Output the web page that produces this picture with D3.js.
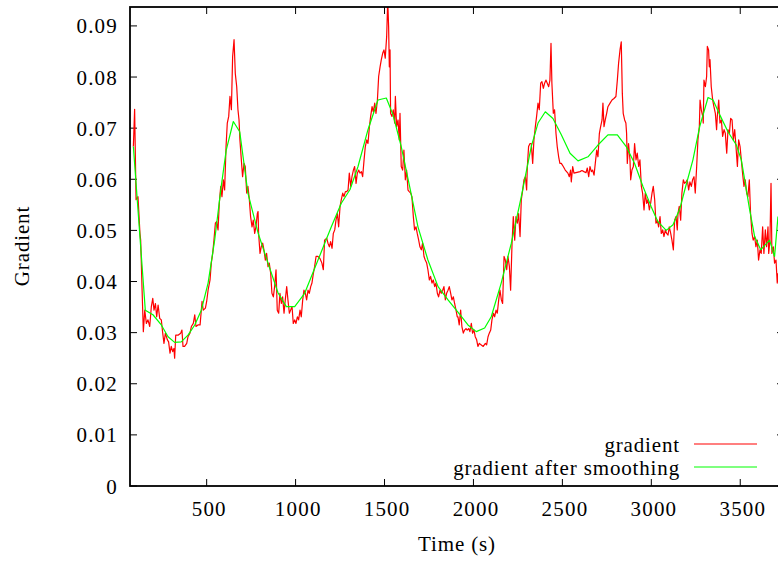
<!DOCTYPE html>
<html>
<head>
<meta charset="utf-8">
<script src="https://cdn.jsdelivr.net/npm/d3@7/dist/d3.min.js"></script>
<style>
  body { margin: 0; background: #fff; }
  svg { display: block; font-family: "Liberation Serif", "Times New Roman", serif; }
  .tick-label { font-size: 21px; fill: #000; letter-spacing: 1.2px; }
  .word-label { font-size: 21px; fill: #000; letter-spacing: 0.85px; }
</style>
</head>
<body>
<svg id="chart" width="778" height="562"></svg>
<script>
// gradient.js

// raw gradient, [time (s), gradient]
var gradient = [
  [88,0.0664],[95,0.0737],[103,0.0560],[114,0.0566],[125,0.0494],[129,0.0481],[137,0.0383],[144,0.0302],[152,0.0344],[161,0.0318],
  [170,0.0325],[180,0.0312],[189,0.0351],[197,0.0367],[204,0.0344],[212,0.0357],[219,0.0331],[227,0.0354],[236,0.0328],[245,0.0325],
  [253,0.0299],[260,0.0279],[268,0.0299],[279,0.0286],[286,0.0282],[294,0.0260],[301,0.0273],[309,0.0263],[316,0.0269],[320,0.0250],
  [326,0.0295],[339,0.0295],[354,0.0299],[361,0.0305],[367,0.0273],[376,0.0273],[388,0.0279],[395,0.0292],[406,0.0299],[414,0.0312],
  [425,0.0318],[433,0.0335],[440,0.0312],[451,0.0315],[463,0.0315],[474,0.0361],[481,0.0344],[493,0.0348],[500,0.0361],[508,0.0383],
  [519,0.0403],[526,0.0436],[534,0.0455],[541,0.0481],[549,0.0514],[556,0.0517],[564,0.0501],[571,0.0553],[579,0.0586],[586,0.0566],
  [594,0.0599],[601,0.0579],[609,0.0664],[616,0.0710],[624,0.0723],[631,0.0762],[639,0.0736],[646,0.0840],[654,0.0873],[661,0.0807],
  [669,0.0781],[676,0.0736],[682,0.0716],[687,0.0677],[695,0.0638],[702,0.0605],[710,0.0631],[717,0.0625],[725,0.0573],[732,0.0586],
  [740,0.0560],[747,0.0527],[755,0.0507],[762,0.0520],[770,0.0494],[777,0.0507],[785,0.0533],[789,0.0537],[792,0.0494],[800,0.0455],
  [807,0.0468],[815,0.0475],[822,0.0462],[830,0.0442],[837,0.0455],[845,0.0429],[852,0.0436],[860,0.0416],[867,0.0377],[875,0.0370],
  [882,0.0390],[890,0.0423],[897,0.0344],[905,0.0338],[912,0.0377],[920,0.0357],[927,0.0370],[935,0.0338],[942,0.0364],[950,0.0390],
  [957,0.0364],[965,0.0338],[972,0.0344],[980,0.0351],[987,0.0318],[995,0.0325],[1002,0.0318],[1010,0.0331],[1017,0.0325],[1025,0.0344],
  [1032,0.0331],[1040,0.0364],[1047,0.0383],[1055,0.0377],[1062,0.0364],[1070,0.0383],[1077,0.0377],[1085,0.0390],[1092,0.0397],[1100,0.0416],
  [1107,0.0429],[1115,0.0449],[1126,0.0449],[1137,0.0445],[1148,0.0436],[1156,0.0423],[1163,0.0481],[1175,0.0485],[1182,0.0475],[1190,0.0468],
  [1197,0.0478],[1205,0.0465],[1212,0.0494],[1220,0.0501],[1227,0.0520],[1235,0.0533],[1242,0.0507],[1250,0.0547],[1257,0.0560],[1265,0.0573],
  [1272,0.0566],[1280,0.0576],[1287,0.0576],[1295,0.0579],[1302,0.0612],[1310,0.0586],[1317,0.0605],[1325,0.0618],[1332,0.0625],[1340,0.0592],
  [1347,0.0612],[1355,0.0618],[1362,0.0612],[1370,0.0615],[1377,0.0605],[1385,0.0638],[1392,0.0664],[1400,0.0677],[1407,0.0670],[1415,0.0703],
  [1422,0.0723],[1430,0.0742],[1437,0.0732],[1445,0.0749],[1452,0.0729],[1460,0.0755],[1467,0.0801],[1475,0.0820],[1482,0.0834],[1490,0.0847],
  [1497,0.0853],[1504,0.0837],[1512,0.0879],[1518,0.0950],[1523,0.0899],[1527,0.0820],[1531,0.0853],[1534,0.0729],[1542,0.0723],[1549,0.0736],
  [1557,0.0710],[1561,0.0762],[1568,0.0703],[1576,0.0716],[1583,0.0677],[1587,0.0729],[1594,0.0625],[1602,0.0618],[1609,0.0657],[1617,0.0599],
  [1624,0.0618],[1632,0.0579],[1639,0.0576],[1647,0.0573],[1654,0.0566],[1662,0.0527],[1669,0.0501],[1677,0.0507],[1684,0.0494],[1692,0.0481],
  [1699,0.0468],[1707,0.0462],[1714,0.0475],[1722,0.0449],[1729,0.0442],[1737,0.0436],[1744,0.0423],[1752,0.0403],[1759,0.0410],[1767,0.0397],
  [1774,0.0403],[1782,0.0390],[1789,0.0397],[1797,0.0377],[1804,0.0370],[1812,0.0383],[1819,0.0377],[1827,0.0383],[1834,0.0390],[1842,0.0364],
  [1849,0.0377],[1857,0.0383],[1864,0.0390],[1872,0.0377],[1879,0.0364],[1887,0.0370],[1894,0.0357],[1902,0.0344],[1909,0.0331],[1913,0.0331],
  [1920,0.0315],[1928,0.0344],[1935,0.0312],[1943,0.0299],[1950,0.0305],[1958,0.0308],[1965,0.0305],[1973,0.0308],[1980,0.0302],[1988,0.0318],
  [1995,0.0299],[2003,0.0305],[2010,0.0292],[2018,0.0286],[2025,0.0273],[2033,0.0279],[2044,0.0276],[2055,0.0273],[2067,0.0279],[2074,0.0276],
  [2082,0.0292],[2089,0.0299],[2097,0.0305],[2104,0.0325],[2112,0.0338],[2119,0.0331],[2127,0.0344],[2134,0.0338],[2142,0.0364],[2149,0.0383],
  [2157,0.0364],[2164,0.0357],[2172,0.0449],[2179,0.0442],[2187,0.0423],[2194,0.0449],[2202,0.0429],[2209,0.0383],[2217,0.0475],[2224,0.0527],
  [2232,0.0481],[2239,0.0527],[2247,0.0514],[2254,0.0533],[2262,0.0488],[2269,0.0560],[2277,0.0579],[2284,0.0599],[2292,0.0605],[2299,0.0579],
  [2303,0.0625],[2310,0.0664],[2318,0.0670],[2325,0.0670],[2333,0.0631],[2340,0.0677],[2348,0.0703],[2355,0.0723],[2363,0.0749],[2370,0.0736],
  [2378,0.0788],[2385,0.0791],[2393,0.0778],[2400,0.0788],[2408,0.0794],[2415,0.0788],[2423,0.0781],[2430,0.0794],[2436,0.0866],[2441,0.0788],
  [2449,0.0729],[2456,0.0736],[2464,0.0690],[2471,0.0664],[2479,0.0644],[2486,0.0631],[2494,0.0631],[2505,0.0625],[2516,0.0618],[2531,0.0612],
  [2539,0.0605],[2546,0.0618],[2550,0.0595],[2558,0.0625],[2565,0.0612],[2576,0.0613],[2588,0.0614],[2599,0.0615],[2610,0.0617],[2621,0.0615],
  [2633,0.0613],[2640,0.0622],[2648,0.0605],[2655,0.0625],[2663,0.0615],[2670,0.0618],[2678,0.0608],[2685,0.0631],[2693,0.0657],[2700,0.0644],
  [2708,0.0690],[2715,0.0703],[2723,0.0716],[2728,0.0749],[2734,0.0703],[2741,0.0716],[2749,0.0729],[2756,0.0742],[2768,0.0749],[2779,0.0755],
  [2790,0.0758],[2801,0.0762],[2809,0.0794],[2816,0.0827],[2824,0.0853],[2831,0.0869],[2837,0.0768],[2842,0.0729],[2850,0.0716],[2857,0.0710],
  [2861,0.0690],[2865,0.0631],[2872,0.0670],[2880,0.0638],[2884,0.0599],[2891,0.0618],[2899,0.0625],[2906,0.0670],[2914,0.0638],[2921,0.0651],
  [2929,0.0625],[2936,0.0638],[2944,0.0586],[2951,0.0573],[2959,0.0540],[2966,0.0573],[2974,0.0553],[2981,0.0560],[2989,0.0540],[2996,0.0553],
  [3004,0.0573],[3011,0.0586],[3019,0.0560],[3026,0.0514],[3034,0.0520],[3041,0.0507],[3049,0.0527],[3056,0.0494],[3064,0.0501],[3071,0.0488],
  [3079,0.0501],[3086,0.0494],[3094,0.0491],[3101,0.0507],[3109,0.0494],[3116,0.0481],[3124,0.0462],[3131,0.0520],[3139,0.0527],[3146,0.0501],
  [3150,0.0533],[3157,0.0547],[3165,0.0520],[3172,0.0573],[3180,0.0599],[3187,0.0592],[3195,0.0595],[3202,0.0599],[3210,0.0579],[3217,0.0595],
  [3225,0.0586],[3232,0.0599],[3240,0.0605],[3247,0.0573],[3255,0.0625],[3262,0.0677],[3270,0.0703],[3274,0.0755],[3281,0.0736],[3289,0.0723],
  [3292,0.0710],[3296,0.0794],[3304,0.0781],[3311,0.0801],[3315,0.0860],[3322,0.0853],[3326,0.0820],[3330,0.0834],[3337,0.0781],[3345,0.0755],
  [3352,0.0742],[3360,0.0729],[3367,0.0697],[3371,0.0723],[3379,0.0755],[3386,0.0710],[3394,0.0716],[3401,0.0684],[3409,0.0697],[3416,0.0690],
  [3424,0.0651],[3431,0.0697],[3439,0.0690],[3446,0.0719],[3454,0.0716],[3461,0.0677],[3469,0.0697],[3476,0.0664],[3484,0.0625],[3491,0.0677],
  [3499,0.0664],[3506,0.0638],[3513,0.0612],[3521,0.0586],[3528,0.0599],[3536,0.0573],[3543,0.0566],[3551,0.0599],[3558,0.0533],[3566,0.0494],
  [3573,0.0481],[3581,0.0488],[3588,0.0468],[3596,0.0481],[3603,0.0442],[3611,0.0462],[3618,0.0455],[3626,0.0507],[3633,0.0455],[3641,0.0501],
  [3648,0.0468],[3656,0.0507],[3660,0.0455],[3667,0.0481],[3673,0.0592],[3678,0.0455],[3686,0.0468],[3693,0.0436],[3701,0.0442],[3708,0.0397],
  [3712,0.0416]
];

// gradient after smoothing
var smoothed = [
  [88,0.0664],[155,0.0344],[198,0.0335],[245,0.0315],[283,0.0292],[320,0.0281],[357,0.0282],[395,0.0295],[433,0.0315],[470,0.0344],
  [508,0.0397],[545,0.0481],[582,0.0586],[610,0.0657],[650,0.0713],[686,0.0693],[732,0.0573],[789,0.0495],[845,0.0436],[901,0.0378],
  [948,0.0351],[995,0.0351],[1051,0.0377],[1126,0.0442],[1201,0.0507],[1257,0.0553],[1306,0.0580],[1351,0.0625],[1407,0.0697],[1463,0.0755],
  [1510,0.0759],[1548,0.0726],[1594,0.0664],[1641,0.0586],[1688,0.0507],[1744,0.0442],[1801,0.0390],[1857,0.0364],[1924,0.0335],[1969,0.0315],
  [2016,0.0302],[2063,0.0309],[2100,0.0331],[2156,0.0397],[2213,0.0475],[2269,0.0566],[2325,0.0664],[2363,0.0710],[2404,0.0732],[2447,0.0719],
  [2494,0.0687],[2543,0.0651],[2588,0.0636],[2644,0.0644],[2700,0.0667],[2756,0.0687],[2809,0.0687],[2859,0.0664],[2906,0.0631],[2953,0.0586],
  [3000,0.0546],[3037,0.0517],[3084,0.0500],[3122,0.0511],[3161,0.0543],[3188,0.0579],[3234,0.0638],[3272,0.0703],[3319,0.0760],[3347,0.0755],
  [3385,0.0726],[3431,0.0693],[3478,0.0667],[3506,0.0638],[3525,0.0599],[3553,0.0540],[3581,0.0488],[3615,0.0462],[3665,0.0481],[3693,0.0449],
  [3712,0.0527]
];

var xTicks = [500, 1000, 1500, 2000, 2500, 3000, 3500];
var yTicks = [0, 0.01, 0.02, 0.03, 0.04, 0.05, 0.06, 0.07, 0.08, 0.09];
var legendLabels = ["gradient", "gradient after smoothing"];
var legendColors = ["#ff0000", "#00ff00"];

var svg = d3.select("#chart");

var plotLeft = 130, plotRight = 784, plotTop = 7, plotBottom = 486;

var x = d3.scaleLinear().domain([69, 3746]).range([plotLeft, plotRight]);
var y = d3.scaleLinear().domain([0, 0.0937]).range([plotBottom, plotTop]);

svg.append("clipPath")
    .attr("id", "plotClip")
  .append("rect")
    .attr("x", plotLeft)
    .attr("y", plotTop)
    .attr("width", plotRight - plotLeft)
    .attr("height", plotBottom - plotTop);

var line = d3.line()
    .x(function (d) { return x(d[0]); })
    .y(function (d) { return y(d[1]); });

// tick marks on all four sides, pointing inwards
var tickLen = 7;
svg.selectAll(".xtick-b").data(xTicks).enter().append("line")
    .attr("x1", function (d) { return x(d); }).attr("x2", function (d) { return x(d); })
    .attr("y1", plotBottom).attr("y2", plotBottom - tickLen)
    .attr("stroke", "#000").attr("stroke-width", 1);
svg.selectAll(".xtick-t").data(xTicks).enter().append("line")
    .attr("x1", function (d) { return x(d); }).attr("x2", function (d) { return x(d); })
    .attr("y1", plotTop).attr("y2", plotTop + tickLen)
    .attr("stroke", "#000").attr("stroke-width", 1);
svg.selectAll(".ytick-l").data(yTicks).enter().append("line")
    .attr("x1", plotLeft).attr("x2", plotLeft + tickLen)
    .attr("y1", function (d) { return y(d); }).attr("y2", function (d) { return y(d); })
    .attr("stroke", "#000").attr("stroke-width", 1);
svg.selectAll(".ytick-r").data(yTicks).enter().append("line")
    .attr("x1", plotRight).attr("x2", plotRight - tickLen)
    .attr("y1", function (d) { return y(d); }).attr("y2", function (d) { return y(d); })
    .attr("stroke", "#000").attr("stroke-width", 1);

// tick labels
svg.selectAll(".xlabel").data(xTicks).enter().append("text")
    .attr("class", "tick-label")
    .attr("x", function (d) { return x(d) + 2.6; })
    .attr("y", 516)
    .attr("text-anchor", "middle")
    .text(function (d) { return d; });

svg.selectAll(".ylabel").data(yTicks).enter().append("text")
    .attr("class", "tick-label")
    .attr("x", 118)
    .attr("y", function (d) { return y(d) + 7.5; })
    .attr("text-anchor", "end")
    .text(function (d) { return d === 0 ? "0" : d3.format(".2f")(d); });

// data
var plot = svg.append("g").attr("clip-path", "url(#plotClip)");

plot.append("path")
    .datum(gradient)
    .attr("d", line)
    .attr("fill", "none")
    .attr("stroke", legendColors[0])
    .attr("stroke-width", 1.2)
    .attr("stroke-linejoin", "round");

plot.append("path")
    .datum(smoothed)
    .attr("d", line)
    .attr("fill", "none")
    .attr("stroke", legendColors[1])
    .attr("stroke-width", 1.2)
    .attr("stroke-linejoin", "round");

// border
svg.append("rect")
    .attr("x", plotLeft).attr("y", plotTop)
    .attr("width", plotRight - plotLeft).attr("height", plotBottom - plotTop)
    .attr("fill", "none")
    .attr("stroke", "#000")
    .attr("stroke-width", 1.8);

// legend
var legend = svg.selectAll(".legend").data(legendLabels).enter().append("g");
legend.append("text")
    .attr("class", "word-label")
    .attr("x", 680)
    .attr("y", function (d, i) { return 452 + i * 23; })
    .attr("text-anchor", "end")
    .text(function (d) { return d; });
legend.append("line")
    .attr("x1", 694).attr("x2", 757)
    .attr("y1", function (d, i) { return 444 + i * 23; })
    .attr("y2", function (d, i) { return 444 + i * 23; })
    .attr("stroke", function (d, i) { return legendColors[i]; })
    .attr("stroke-width", 1.2);

// axis titles
svg.append("text")
    .attr("class", "word-label")
    .attr("x", 457)
    .attr("y", 551)
    .attr("text-anchor", "middle")
    .text("Time (s)");

svg.append("text")
    .attr("class", "word-label")
    .attr("transform", "translate(29,246) rotate(-90)")
    .attr("text-anchor", "middle")
    .text("Gradient");
</script>
</body>
</html>
